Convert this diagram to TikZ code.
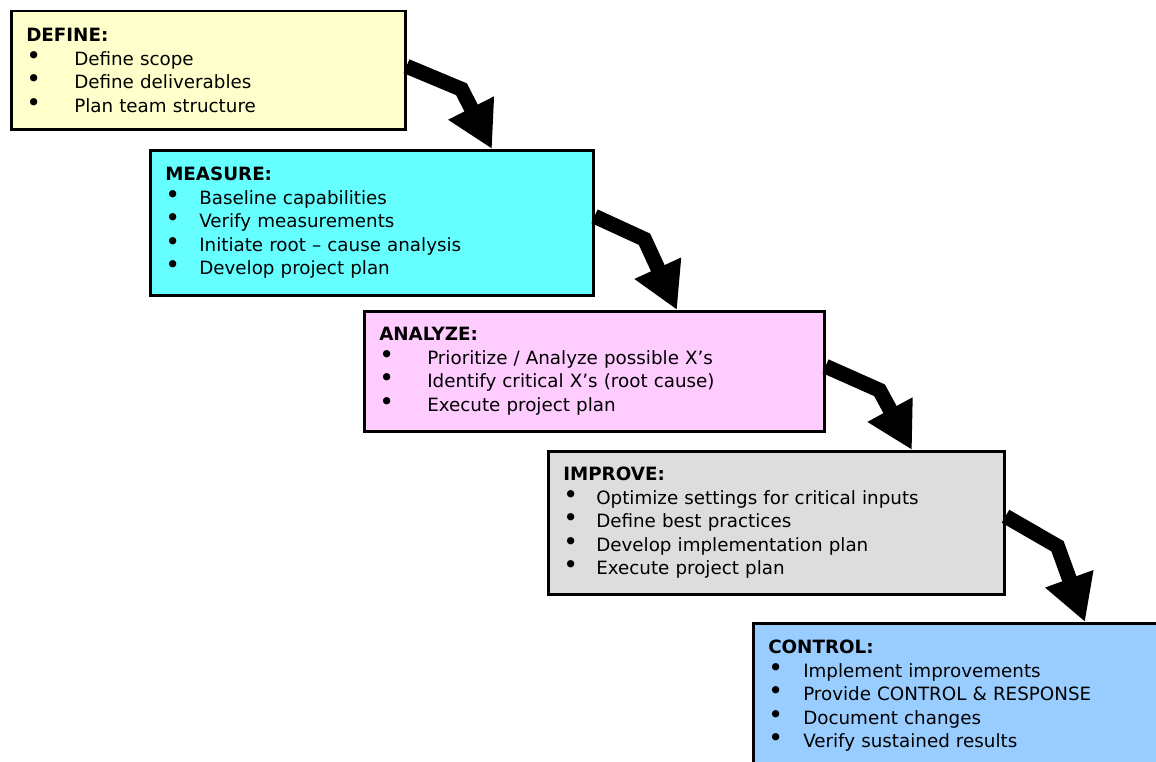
\documentclass[tikz,border=0pt]{standalone}
\usepackage{fontspec}
\setmainfont{DejaVu Sans}
\usetikzlibrary{arrows.meta}

\definecolor{definefill}{HTML}{FFFFCC}
\definecolor{measurefill}{HTML}{66FFFF}
\definecolor{analyzefill}{HTML}{FFCCFF}
\definecolor{improvefill}{HTML}{DDDDDD}
\definecolor{controlfill}{HTML}{99CCFF}

\newcommand{\stepfont}{\fontsize{18.3bp}{23.5bp}\selectfont}
\newcommand{\bitem}[2]{\makebox[#1][l]{\raisebox{1bp}{\fontsize{25bp}{25bp}\selectfont\textbullet}}#2}

\begin{document}
\begin{tikzpicture}[x=1bp,y=-1bp,
                every node/.style={draw,line width=2.5bp,anchor=north west,align=left,
                    inner xsep=15bp,inner ysep=0pt,font=\stepfont},
                flow/.style={line width=15bp,-{Triangle[length=46bp,width=48bp]}}
            ]
                \clip (0,0) rectangle (1156,762);
                \node[fill=definefill,text width=364bp,minimum height=118bp] (define) at (10,10)
                    {\textbf{DEFINE:}\\
                     \bitem{48bp}{Define scope}\\
                     \bitem{48bp}{Define deliverables}\\
                     \bitem{48bp}{Plan team structure}};
                \node[fill=measurefill,text width=413bp,minimum height=145bp] (measure) at (149,149)
                    {\textbf{MEASURE:}\\
                     \bitem{34bp}{Baseline capabilities}\\
                     \bitem{34bp}{Verify measurements}\\
                     \bitem{34bp}{Initiate root – cause analysis}\\
                     \bitem{34bp}{Develop project plan}};
                \node[fill=analyzefill,text width=430bp,minimum height=120bp] (analyze) at (363,310)
                    {\textbf{ANALYZE:}\\
                     \bitem{48bp}{Prioritize / Analyze possible X’s}\\
                     \bitem{48bp}{Identify critical X’s (root cause)}\\
                     \bitem{48bp}{Execute project plan}};
                \node[fill=improvefill,text width=426bp,minimum height=143bp] (improve) at (547,450)
                    {\textbf{IMPROVE:}\\
                     \bitem{33bp}{Optimize settings for critical inputs}\\
                     \bitem{33bp}{Define best practices}\\
                     \bitem{33bp}{Develop implementation plan}\\
                     \bitem{33bp}{Execute project plan}};
                \node[fill=controlfill,text width=390bp,minimum height=145bp] (control) at (752,622)
                    {\textbf{CONTROL:}\\
                     \bitem{35bp}{Implement improvements}\\
                     \bitem{35bp}{Provide CONTROL \& RESPONSE}\\
                     \bitem{35bp}{Document changes}\\
                     \bitem{35bp}{Verify sustained results}};

                \draw[flow] ([yshift=4bp]define.east) -- ++(55,23) -- ([xshift=343bp]measure.north west);
                \draw[flow] ([yshift=6.5bp]measure.east) -- ++(50,23) -- ([xshift=314bp]analyze.north west);
                \draw[flow] ([yshift=5bp]analyze.east) -- ++(54,24) -- ([xshift=365bp]improve.north west);
                \draw[flow] ([yshift=6.5bp]improve.east) -- ++(52,30) -- ([xshift=333bp]control.north west);
            \end{tikzpicture}
\end{document}
